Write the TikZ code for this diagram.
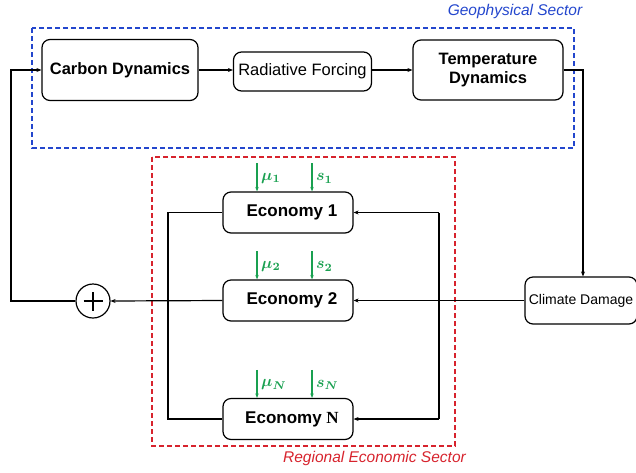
\documentclass[tikz,border=0pt]{standalone}
\usepackage{amsmath}
\usepackage{bm}
\usepackage{fontspec}
\setmainfont{Liberation Sans}
\newfontfamily\ecoserif{Liberation Serif}
\usetikzlibrary{arrows.meta}
\definecolor{geoblue}{RGB}{35,70,205}
\definecolor{ecored}{RGB}{215,35,45}
\definecolor{ctrlgreen}{RGB}{25,160,80}
\tikzset{
  box/.style={draw, rounded corners=8pt, line width=1.2pt, align=center, inner sep=0pt},
  conn/.style={line width=1.2pt},
  arr/.style={conn, -{Stealth[length=5pt,width=4pt]}},
  garr/.style={line width=1.1pt, draw=ctrlgreen, -{Stealth[length=4.5pt,width=3.5pt]}},
  glabel/.style={text=ctrlgreen, anchor=west, inner sep=0pt},
  sector/.style={dashed, dash pattern=on 5pt off 3pt, line width=1.3pt},
  seclabel/.style={font=\fontsize{15.5}{18}\selectfont\itshape, inner sep=0pt}
}
\begin{document}
\begin{tikzpicture}[x=1pt,y=-1pt]
\useasboundingbox (0,0) rectangle (636,472);
% sectors
\draw[sector, draw=geoblue] (32,28) rectangle (574,148);
\node[seclabel, text=geoblue, anchor=center] (geolab) at (515,11) {Geophysical Sector};
\draw[sector, draw=ecored] (152,157) rectangle (455,446);
\node[seclabel, text=ecored, anchor=center] (ecolab) at (374.5,458) {Regional Economic Sector};
% geophysical nodes
\node[box, minimum width=156pt, minimum height=61pt, font=\fontsize{16.5}{19.5}\selectfont\bfseries] (carbon) at (120,70) {Carbon Dynamics};
\node[box, minimum width=138pt, minimum height=39pt, font=\fontsize{16.5}{19.5}\selectfont] (rad) at (302.5,71.5) {Radiative Forcing};
\node[box, minimum width=150pt, minimum height=60pt, font=\fontsize{16.5}{19.5}\selectfont\bfseries] (temp) at (488,70) {Temperature\\Dynamics};
\node[box, minimum width=112pt, minimum height=47pt, font=\fontsize{14}{17}\selectfont] (damage) at (581,300.5) {Climate Damage};
% economies
\node[box, minimum width=130pt, minimum height=41pt, font=\fontsize{17}{20}\selectfont\bfseries] (eco1) at (288,212.5) {\hspace*{8pt}Economy 1};
\node[box, minimum width=130pt, minimum height=41pt, font=\fontsize{17}{20}\selectfont\bfseries] (eco2) at (288,300.5) {\hspace*{8pt}Economy 2};
\node[box, minimum width=130pt, minimum height=41pt, font=\fontsize{17}{20}\selectfont\bfseries] (ecoN) at (288,419) {\hspace*{8pt}Economy {\ecoserif N}};
% summation
\node[draw, circle, line width=1.2pt, minimum size=34pt, inner sep=0pt] (plus) at (93,301) {};
\draw[line width=2.6pt] ([xshift=-9.5pt]plus.center) -- ([xshift=9.5pt]plus.center);
\draw[line width=2.6pt] ([yshift=-9.5pt]plus.center) -- ([yshift=9.5pt]plus.center);
% coordinates
\coordinate (tturn) at (583,70);
\coordinate (r1) at (439,212.5);
\coordinate (rN) at (439,419);
\coordinate (l1) at (168,212.5);
\coordinate (lN) at (168,419);
\coordinate (fb) at (11,301);
% geophysical connectors
\draw[arr] (carbon.east) -- (carbon.east -| rad.west);
\draw[arr] (carbon.east -| rad.east) -- (carbon.east -| temp.west);
\draw[arr] (temp.east) -- (tturn) -- (tturn |- damage.north);
\draw[arr] (damage.west) -- (damage.west -| eco2.east);
% economy loops
\draw[conn] (rN) -- (r1);
\draw[arr] (r1) -- (eco1.east);
\draw[arr] (rN) -- (ecoN.east);
\draw[conn] (eco1.west) -- (l1) -- (lN) -- (ecoN.west);
\draw[arr] (eco2.west) -- (plus.east);
\draw[arr] (plus.west) -- (fb) |- (carbon.west);
% controls
\foreach \e/\k in {eco1/1, eco2/2, ecoN/N}{
  \coordinate (mu\k) at ([xshift=-31pt]\e.north);
  \coordinate (s\k) at ([xshift=24pt]\e.north);
  \draw[garr] ([yshift=28pt]mu\k) -- (mu\k);
  \draw[garr] ([yshift=28pt]s\k) -- (s\k);
  \node[glabel] (mulab\k) at ([xshift=4pt,yshift=13pt]mu\k) {\scalebox{1.6}{$\bm{\mu}_{\bm{\k}}$}};
  \node[glabel] (slab\k) at ([xshift=4pt,yshift=13pt]s\k) {\scalebox{1.6}{$\bm{s}_{\bm{\k}}$}};
}
\end{tikzpicture}
\end{document}
